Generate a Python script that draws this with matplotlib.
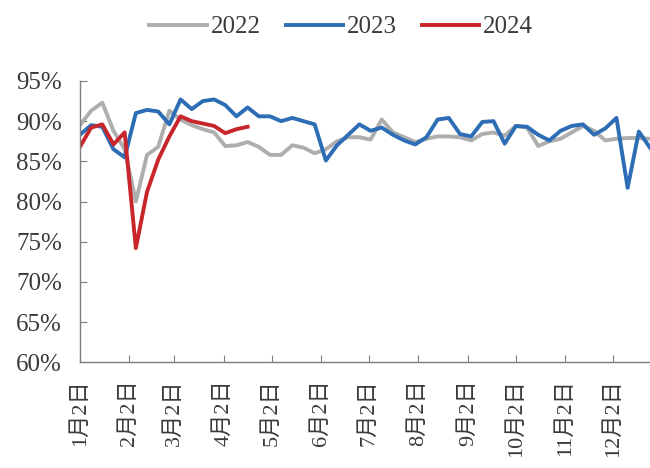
import matplotlib
matplotlib.use('Agg')
import matplotlib.pyplot as plt
from matplotlib.ticker import FuncFormatter
import numpy as np

# Weekly readings (%), week index 0 = 1月2日
y2022 = [89.5, 91.3, 92.3, 88.8, 86.5, 80.0, 85.8, 86.8, 91.3, 90.2,
         89.5, 89.0, 88.6, 86.9, 87.0, 87.4, 86.8, 85.8, 85.8, 87.0,
         86.7, 86.0, 86.5, 87.5, 88.0, 88.0, 87.7, 90.2, 88.6, 88.0,
         87.4, 87.8, 88.1, 88.1, 88.0, 87.6, 88.4, 88.6, 88.2, 89.4,
         89.2, 86.9, 87.5, 87.8, 88.6, 89.4, 88.8, 87.6, 87.8, 87.9,
         87.9, 87.8]
y2023 = [88.3, 89.5, 89.3, 86.5, 85.5, 91.0, 91.4, 91.2, 89.6, 92.7,
         91.5, 92.5, 92.7, 92.0, 90.6, 91.7, 90.6, 90.6, 90.0, 90.4,
         90.0, 89.6, 85.1, 87.0, 88.3, 89.6, 88.8, 89.2, 88.3, 87.6,
         87.1, 88.0, 90.2, 90.4, 88.4, 88.1, 89.9, 90.0, 87.2, 89.4,
         89.3, 88.3, 87.6, 88.8, 89.4, 89.6, 88.3, 89.1, 90.4, 81.7,
         88.7, 86.7]
y2024 = [86.8, 89.2, 89.6, 87.1, 88.6, 74.2, 81.2, 85.2, 88.1, 90.6,
         90.0, 89.7, 89.4, 88.5, 89.0, 89.3]

month_days = [0, 31, 59, 90, 120, 151, 181, 212, 243, 273, 304, 334]
month_labels = [f"{m}月2日" for m in range(1, 13)]

series = [("2022", y2022, "#AEAEAE"),
          ("2023", y2023, "#2C6DB5"),
          ("2024", y2024, "#C8262B")]

fig = plt.figure(figsize=(6.5, 4.68), dpi=100)
ax = fig.add_axes([0.123, 0.226, 0.877, 0.601])

for name, vals, color in series:
    ax.plot(np.arange(len(vals)), vals, color=color, linewidth=2.8,
            label=name, solid_joinstyle='round')

ax.set_xlim(0, 51)
ax.set_ylim(60, 95)
ax.set_yticks(np.arange(60, 96, 5))
ax.yaxis.set_major_formatter(FuncFormatter(lambda v, _: f"{v:.0f}%"))
ax.set_xticks(np.array(month_days) / 7)
ax.set_xticklabels(month_labels, rotation=90,
                   family=['Liberation Serif', 'Noto Sans CJK SC'])

for side in ('top', 'right'):
    ax.spines[side].set_visible(False)
for side in ('left', 'bottom'):
    ax.spines[side].set_color('#7F7F7F')
    ax.spines[side].set_linewidth(1.0)

ax.tick_params(axis='y', direction='in', length=5, color='#7F7F7F',
               labelsize=18, pad=13, labelcolor='#3A3A3A')
ax.tick_params(axis='x', direction='in', length=5, color='#7F7F7F',
               labelsize=16, pad=12, labelcolor='#3A3A3A')
for lbl in ax.get_yticklabels():
    lbl.set_family('Liberation Serif')

leg = fig.legend(loc='center', bbox_to_anchor=(0.525, 0.942), ncol=3,
                 frameon=False, handlelength=2.3, handletextpad=0.15,
                 columnspacing=1.0, prop={'family': 'Liberation Serif', 'size': 18})
for t in leg.get_texts():
    t.set_color('#3A3A3A')

fig.savefig('out.png', dpi=100)
